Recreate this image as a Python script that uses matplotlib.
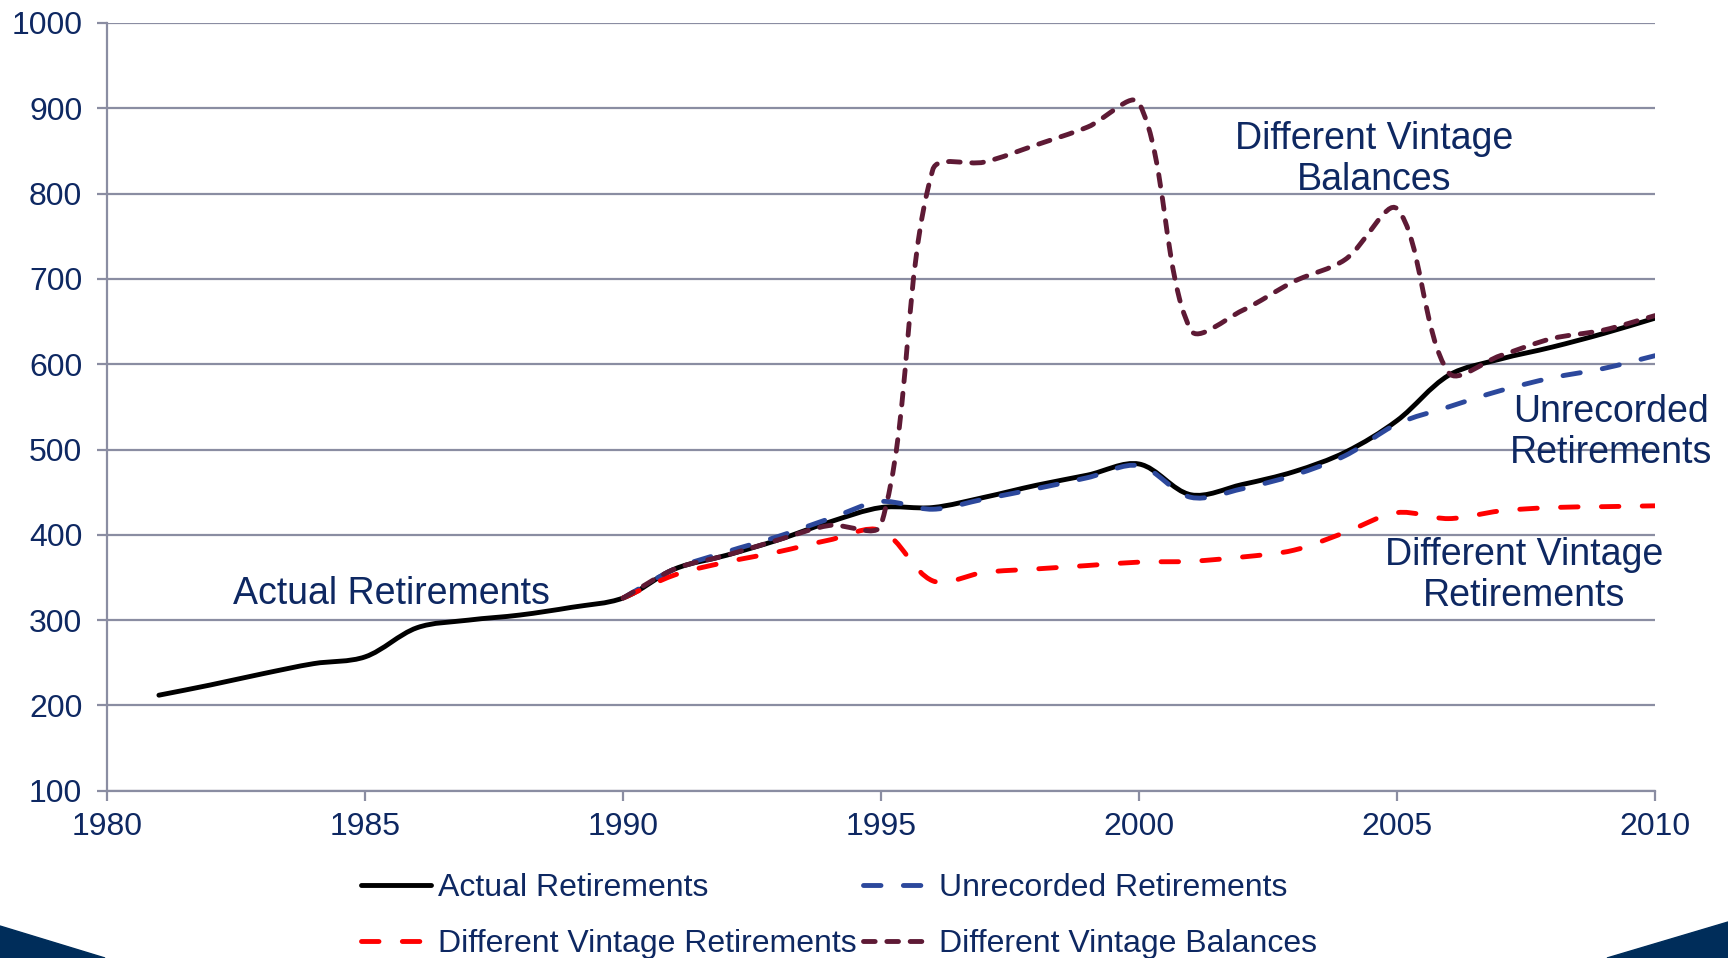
import matplotlib
matplotlib.use("Agg")
import matplotlib.pyplot as plt
import numpy as np
from matplotlib.path import Path
from matplotlib.patches import PathPatch, Polygon
from matplotlib.lines import Line2D

plt.rcParams['font.family'] = ['Liberation Sans', 'DejaVu Sans']

# data
years_actual = list(range(1981, 2011))
actual = [212, 224, 237, 249, 257, 291, 300, 306, 315, 326,
          360, 376, 394, 415, 432, 432, 444, 458, 470, 483,
          447, 459, 474, 497, 534, 587, 606, 620, 636, 654]

years_alt = list(range(1990, 2011))
unrecorded = [326, 360, 380, 398, 419, 439, 430, 442, 454, 467,
              481, 444, 454, 470, 493, 530, 550, 569, 584, 595, 610]
vintage_ret = [326, 353, 368, 380, 394, 405, 346, 356, 360, 364,
               368, 369, 374, 382, 403, 426, 419, 428, 432, 433, 434]
vintage_bal = [326, 360, 376, 394, 411, 412, 828, 837, 857, 878,
               906, 640, 663, 697, 723, 782, 590, 610, 630, 640, 657]

xticks = [1980, 1985, 1990, 1995, 2000, 2005, 2010]
yticks = list(range(100, 1001, 100))

navy = '#0E2862'
gridc = '#8A8DA2'


def smooth(ax, x, y):
    # excel-like smoothed line: bezier tangents weighted by segment length
    x = np.asarray(x, float)
    y = np.asarray(y, float)
    n = len(x)
    scr = ax.transData.transform(np.column_stack([x, y]))
    d = np.hypot(*np.diff(scr, axis=0).T)
    P = np.column_stack([x, y])
    T = np.empty_like(P)
    T[0] = P[1] - P[0]
    T[-1] = P[-1] - P[-2]
    T[1:-1] = P[2:] - P[:-2]
    verts = [tuple(P[0])]
    codes = [Path.MOVETO]
    for i in range(n - 1):
        dl = d[i - 1] if i > 0 else 0.0
        dr = d[i + 1] if i + 1 < n - 1 else 0.0
        c1 = P[i] + T[i] * d[i] / (dl + d[i]) / 3
        c2 = P[i + 1] - T[i + 1] * d[i] / (d[i] + dr) / 3
        verts += [tuple(c1), tuple(c2), tuple(P[i + 1])]
        codes += [Path.CURVE4] * 3
    return Path(verts, codes)


fig = plt.figure(figsize=(17.28, 9.58), dpi=100)
ax = fig.add_axes([0.0621, 0.1746, 0.8957, 0.8014])
ax.set_xlim(1980, 2010)
ax.set_ylim(100, 1000)

lw = 3.5
series = [
    (years_actual, actual, 'black', '-', 'Actual Retirements'),
    (years_alt, unrecorded, '#2C489C', (0, (3.6, 4.6)), 'Unrecorded Retirements'),
    (years_alt, vintage_ret, '#FF0000', (0, (3.6, 4.8)), 'Different Vintage Retirements'),
    (years_alt, vintage_bal, '#5E1A35', (0, (2.4, 2.4)), 'Different Vintage Balances'),
]
handles = {}
for x, y, c, ls, lab in series:
    p = PathPatch(smooth(ax, x, y), fill=False, edgecolor=c, lw=lw, linestyle=ls,
                  capstyle='round', joinstyle='round', transform=ax.transData)
    ax.add_patch(p)
    handles[lab] = Line2D([], [], color=c, lw=lw, linestyle=ls,
                          dash_capstyle='round', solid_capstyle='round')

ax.set_xticks(xticks)
ax.set_yticks(yticks)
ax.yaxis.grid(True, color=gridc, lw=1.6)
ax.set_axisbelow(True)
for s in ['top', 'right']:
    ax.spines[s].set_visible(False)
for s in ['left', 'bottom']:
    ax.spines[s].set_color(gridc)
    ax.spines[s].set_linewidth(1.6)
ax.tick_params(axis='both', colors=gridc, labelcolor=navy, labelsize=23,
               width=1.6, length=7, direction='out')
ax.tick_params(axis='y', pad=11)
ax.tick_params(axis='x', pad=8)

# series labels
ann = dict(color=navy, fontsize=27, ha='center', va='center',
           multialignment='center', linespacing=1.17, clip_on=False)
ax.text(1985.5, 331, 'Actual Retirements', **ann)
ax.text(2004.55, 840, 'Different Vintage\nBalances', **ann)
ax.text(2009.14, 520, 'Unrecorded\nRetirements', **ann)
ax.text(2007.47, 352, 'Different Vintage\nRetirements', **ann)

order = ['Actual Retirements', 'Different Vintage Retirements',
         'Unrecorded Retirements', 'Different Vintage Balances']
leg = fig.legend([handles[k] for k in order], order, ncol=2, frameon=False,
                 loc='upper left', bbox_to_anchor=(0.2089, 0.0885),
                 borderpad=0, borderaxespad=0, fontsize=23,
                 handlelength=2.2, handletextpad=0.2, columnspacing=0.2,
                 labelspacing=0.8)
for t in leg.get_texts():
    t.set_color(navy)

# corner decorations
deco = '#002D5A'
fig.patches.append(Polygon([(0, 0), (0, 32 / 958), (105 / 1728, 0)],
                           closed=True, color=deco, transform=fig.transFigure))
fig.patches.append(Polygon([(1, 0), (1, 36 / 958), (1607 / 1728, 0)],
                           closed=True, color=deco, transform=fig.transFigure))

fig.savefig('out.png', dpi=100)
